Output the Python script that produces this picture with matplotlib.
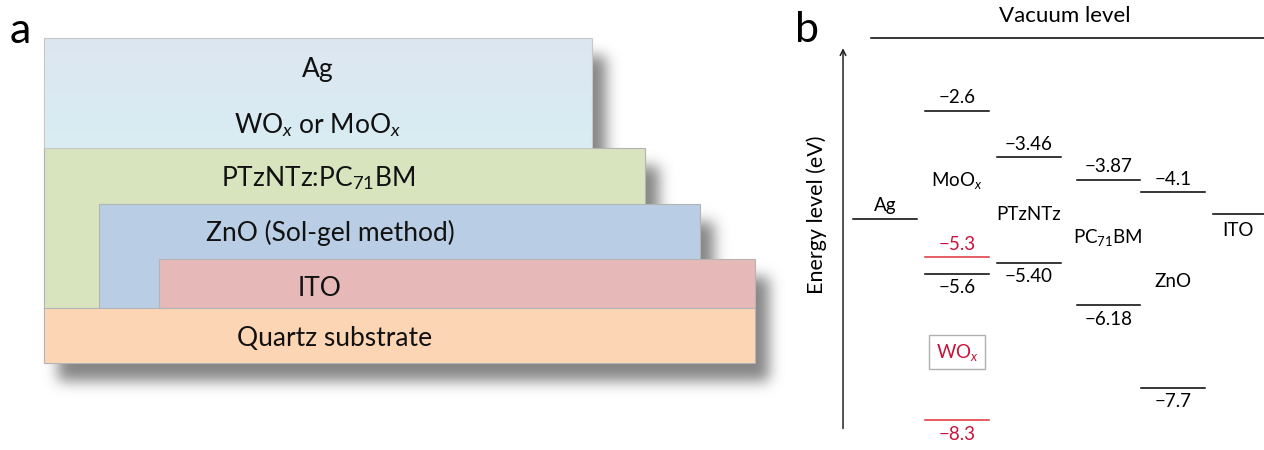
import numpy as np
import matplotlib
matplotlib.use("Agg")
import matplotlib.pyplot as plt
from matplotlib.patches import Rectangle

plt.rcParams['font.family'] = ['Lato', 'DejaVu Sans']
plt.rcParams['mathtext.fontset'] = 'custom'
plt.rcParams['mathtext.rm'] = 'Lato'
plt.rcParams['mathtext.it'] = 'Lato:italic'

# ---- panel a: device stack (top to bottom) ----
layer_names = ['Ag', 'WO$_x$ or MoO$_x$', 'PTzNTz:PC$_{71}$BM',
               'ZnO (Sol-gel method)', 'ITO', 'Quartz substrate']
layer_colors = ['#dde6f1', '#d8edf3', '#d7e4bd', '#b9cde5', '#e6b9b8', '#fcd5b5']

# ---- panel b: energy levels (eV) ----
materials = ['Ag', 'MoO$_x$', 'PTzNTz', 'PC$_{71}$BM', 'ZnO', 'ITO']
work_function = {'Ag': -4.6, 'ITO': -4.5}
lumo = {'MoO$_x$': -2.6, 'PTzNTz': -3.46, 'PC$_{71}$BM': -3.87, 'ZnO': -4.1}
homo = {'MoO$_x$': -5.6, 'PTzNTz': -5.40, 'PC$_{71}$BM': -6.18, 'ZnO': -7.7}
lumo_labels = {'MoO$_x$': '\u22122.6', 'PTzNTz': '\u22123.46',
               'PC$_{71}$BM': '\u22123.87', 'ZnO': '\u22124.1'}
homo_labels = {'MoO$_x$': '\u22125.6', 'PTzNTz': '\u22125.40',
               'PC$_{71}$BM': '\u22126.18', 'ZnO': '\u22127.7'}
wox_levels = [-5.3, -8.3]
wox_labels = ['\u22125.3', '\u22128.3']

W, H = 1264, 450
fig = plt.figure(figsize=(W / 100, H / 100), dpi=100)

# ================= panel a =================
axa = fig.add_axes([0, 0, 800 / W, 1])
axa.set_xlim(0, 800)
axa.set_ylim(H, 0)
axa.axis('off')

# layer boxes in pixel units: x0, x1, y0, y1
boxes = [(44, 592, 38, 93), (44, 592, 93, 148), (44, 645, 148, 310),
         (99, 700, 204, 310), (159, 755, 259, 308), (44, 755, 308, 363)]
text_xy = [(318, 70), (318, 125), (318, 178), (330, 233), (320, 288), (335, 338)]

# blurred drop shadow of the whole stack
mask = np.zeros((H, 800))
dx, dy = 14, 18
for x0, x1, y0, y1 in boxes:
    mask[y0 + dy:y1 + dy, x0 + dx:x1 + dx] = 1.0
sig = 7.0
k = np.exp(-0.5 * (np.arange(-3 * sig, 3 * sig + 1) / sig) ** 2)
k /= k.sum()
blur = np.apply_along_axis(lambda r: np.convolve(r, k, mode='same'), 1, mask)
blur = np.apply_along_axis(lambda c: np.convolve(c, k, mode='same'), 0, blur)
shadow = np.zeros((H, 800, 4))
shadow[..., :3] = 0.4
shadow[..., 3] = blur * 0.8
axa.imshow(shadow, extent=(0, 800, H, 0), zorder=0, interpolation='bilinear')
axa.set_xlim(0, 800)
axa.set_ylim(H, 0)

# soft vertical gradient for the Ag / oxide block
top_c = np.array(matplotlib.colors.to_rgb(layer_colors[0]))
bot_c = np.array(matplotlib.colors.to_rgb(layer_colors[1]))
t = np.linspace(0, 1, 110)[:, None, None]
grad = top_c[None, None, :] * (1 - t) + bot_c[None, None, :] * t

draw_order = [2, 3, 4, 5]
for z, i in enumerate(draw_order):
    x0, x1, y0, y1 = boxes[i]
    axa.add_patch(Rectangle((x0, y0), x1 - x0, y1 - y0, facecolor=layer_colors[i],
                            edgecolor='#b4b4b4', lw=0.8, zorder=2 + z))
axa.imshow(grad, extent=(44, 592, 148, 38), zorder=8, aspect='auto', interpolation='bilinear')
axa.add_patch(Rectangle((44, 38), 548, 110, facecolor='none', edgecolor='#c8c8c8',
                        lw=0.8, zorder=10))
axa.set_xlim(0, 800)
axa.set_ylim(H, 0)

for name, (tx, ty) in zip(layer_names, text_xy):
    axa.text(tx, ty, name, ha='center', va='center', fontsize=19,
             color='#111111', zorder=11)

fig.text(20 / W, 1 - 31 / H, 'a', fontsize=31, ha='center', va='center')

# ================= panel b =================
axb = fig.add_axes([800 / W, 0, 464 / W, 1])
px_per_col = 72.0
x_origin = 885.0
axb.set_xlim((800 - x_origin) / px_per_col, (W - x_origin) / px_per_col)
axb.set_ylim(-8.846, -0.563)
axb.axis('off')

col_x = [0, 1, 2, 3.1, 4, 5]
hw = 0.44
red_line = '#e0303a'
red_text = '#c8143c'
fs = 13.5

for m, cx in zip(materials, col_x):
    if m in work_function:
        axb.plot([cx - hw, cx + hw], [work_function[m]] * 2, color='black', lw=1.1)
    if m in lumo:
        axb.plot([cx - hw, cx + hw], [lumo[m]] * 2, color='black', lw=1.1)
        axb.annotate(lumo_labels[m], (cx, lumo[m]), xytext=(0, 3),
                     textcoords='offset points', ha='center', va='bottom', fontsize=fs)
        axb.plot([cx - hw, cx + hw], [homo[m]] * 2, color='black', lw=1.1)
        axb.annotate(homo_labels[m], (cx, homo[m]), xytext=(0, -4),
                     textcoords='offset points', ha='center', va='top', fontsize=fs)

# WOx levels drawn in the MoOx column
cx = col_x[1]
axb.plot([cx - hw, cx + hw], [wox_levels[0]] * 2, color=red_line, lw=1.1)
axb.annotate(wox_labels[0], (cx, wox_levels[0]), xytext=(0, 3), textcoords='offset points',
             ha='center', va='bottom', fontsize=fs, color=red_text)
axb.plot([cx - hw, cx + hw], [wox_levels[1]] * 2, color=red_line, lw=1.1)
axb.annotate(wox_labels[1], (cx, wox_levels[1]), xytext=(0, -4), textcoords='offset points',
             ha='center', va='top', fontsize=fs, color=red_text)
axb.text(cx, -7.05, 'WO$_x$', ha='center', va='center', fontsize=fs, color=red_text,
         bbox=dict(boxstyle='square,pad=0.35', facecolor='white', edgecolor='#b0b0b0', lw=1.0))

# material labels
label_y = [-4.35, -3.88, -4.52, -4.94, -5.75, -4.80]
for m, cx, ly in zip(materials, col_x, label_y):
    axb.text(cx - (0.1 if m == 'ITO' else 0), ly, m, ha='center', va='center', fontsize=fs)

# energy axis arrow
axb.annotate('', xy=(-0.583, -1.45), xytext=(-0.583, -8.45),
             arrowprops=dict(arrowstyle='->', color='#222222', lw=1.1,
                             shrinkA=0, shrinkB=0, mutation_scale=10))
axb.text(-0.955, -4.52, 'Energy level (eV)', rotation=90, ha='center', va='center',
         fontsize=15.5)

# vacuum level
axb.plot([-0.194, 5.3], [-1.262, -1.262], color='black', lw=1.1, clip_on=False)
axb.text(2.5, -0.86, 'Vacuum level', ha='center', va='center', fontsize=16)

fig.text(807 / W, 1 - 30 / H, 'b', fontsize=31, ha='center', va='center')

fig.savefig('out.png', dpi=100)
